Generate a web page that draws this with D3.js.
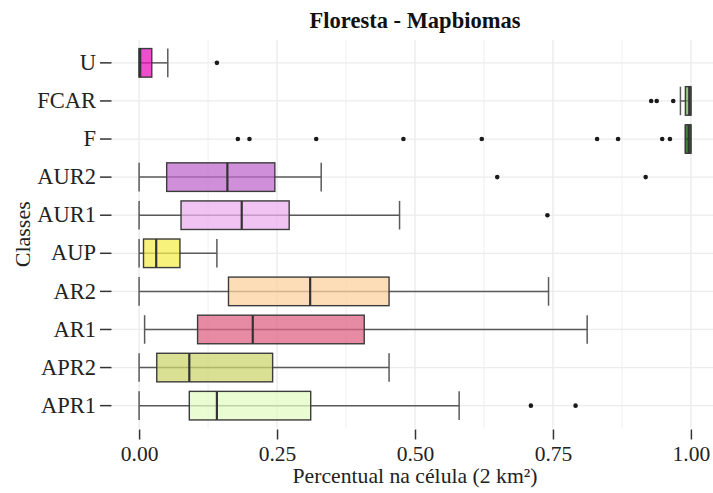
<!DOCTYPE html>
<html>
<head>
<meta charset="utf-8">
<script src="https://cdn.jsdelivr.net/npm/d3@7"></script>
<style>
  html, body { margin: 0; padding: 0; background: #fff; }
  svg { display: block; }
</style>
</head>
<body>
<svg id="chart" width="713" height="493"></svg>
<script>
// ---- data (top to bottom) ----
const classes      = ["U", "FCAR", "F", "AUR2", "AUR1", "AUP", "AR2", "AR1", "APR2", "APR1"];
const whiskerLow   = [0.000, 0.981, 0.990, 0.000, 0.000, 0.000, 0.000, 0.010, 0.000, 0.000];
const q1Values     = [0.000, 0.990, 0.990, 0.050, 0.076, 0.008, 0.162, 0.106, 0.032, 0.091];
const medianValues = [0.002, 0.997, 0.996, 0.160, 0.186, 0.031, 0.310, 0.206, 0.091, 0.141];
const q3Values     = [0.023, 1.000, 1.000, 0.246, 0.272, 0.074, 0.453, 0.408, 0.242, 0.311];
const whiskerHigh  = [0.052, 1.000, 1.000, 0.330, 0.472, 0.141, 0.742, 0.812, 0.453, 0.580];
const outlierValues = [
  [0.141],
  [0.928, 0.938, 0.968],
  [0.179, 0.200, 0.321, 0.479, 0.621, 0.830, 0.868, 0.948, 0.962],
  [0.649, 0.918],
  [0.740],
  [],
  [],
  [],
  [],
  [0.710, 0.791]
];
const boxColors = ["#ef4fcf", "#8fcb80", "#4f8c45", "#cf90d9", "#f0c3f2", "#f7f27c", "#fddcb8", "#e68ba3", "#d9df93", "#eafcd2"];
const xTicks = [0, 0.25, 0.5, 0.75, 1];
const xMinorTicks = [0.125, 0.375, 0.625, 0.875];
const titleText = "Floresta - Mapbiomas";
const xTitle = "Percentual na célula (2 km²)";
const yTitle = "Classes";

// ---- layout ----
const svg = d3.select("#chart");
const panel = { left: 111.5, right: 718.5, top: 40, bottom: 428.5 };
const x = d3.scaleLinear().domain([-0.05, 1.05]).range([panel.left, panel.right]);
const y = d3.scaleBand().domain(classes).range([panel.top, panel.bottom]).paddingInner(0).paddingOuter(0.1);
const boxH = y.bandwidth() * 0.75;
const alpha = 0.75;
function unblend(hex) {
  const c = d3.rgb(hex);
  const f = v => Math.max(0, Math.min(255, (v - 255 * (1 - alpha)) / alpha));
  return d3.rgb(f(c.r), f(c.g), f(c.b)).formatHex();
}
const font = "'Liberation Serif', 'Times New Roman', serif";
const textColor = "#222";

// gridlines
const grid = svg.append("g");
grid.selectAll("line.minor").data(xMinorTicks).join("line")
  .attr("x1", d => x(d)).attr("x2", d => x(d))
  .attr("y1", panel.top).attr("y2", panel.bottom)
  .attr("stroke", "#efefef").attr("stroke-width", 1);
grid.selectAll("line.major").data(xTicks).join("line")
  .attr("x1", d => x(d)).attr("x2", d => x(d))
  .attr("y1", panel.top).attr("y2", panel.bottom)
  .attr("stroke", "#e8e8e8").attr("stroke-width", 1.2);
grid.selectAll("line.h").data(classes).join("line")
  .attr("x1", panel.left).attr("x2", panel.right)
  .attr("y1", d => y(d) + y.bandwidth() / 2).attr("y2", d => y(d) + y.bandwidth() / 2)
  .attr("stroke", "#ececec").attr("stroke-width", 1.2);

// boxplots
const rows = classes.map((c, i) => ({
  c, lo: whiskerLow[i], q1: q1Values[i], med: medianValues[i], q3: q3Values[i], hi: whiskerHigh[i],
  out: outlierValues[i], color: boxColors[i]
}));
const g = svg.append("g");
const row = g.selectAll("g.row").data(rows).join("g")
  .attr("transform", d => `translate(0,${y(d.c) + y.bandwidth() / 2})`);

const whiskerColor = "#5a5a5a";
row.append("line")
  .attr("x1", d => x(d.lo)).attr("x2", d => x(d.hi))
  .attr("y1", 0).attr("y2", 0)
  .attr("stroke", whiskerColor).attr("stroke-width", 1.5);
row.append("line")
  .attr("x1", d => x(d.lo)).attr("x2", d => x(d.lo))
  .attr("y1", -boxH / 2).attr("y2", boxH / 2)
  .attr("stroke", whiskerColor).attr("stroke-width", 1.5);
row.append("line")
  .attr("x1", d => x(d.hi)).attr("x2", d => x(d.hi))
  .attr("y1", -boxH / 2).attr("y2", boxH / 2)
  .attr("stroke", whiskerColor).attr("stroke-width", 1.5);
row.append("rect")
  .attr("x", d => x(d.q1)).attr("width", d => Math.max(0, x(d.q3) - x(d.q1)))
  .attr("y", -boxH / 2).attr("height", boxH)
  .attr("fill", d => unblend(d.color)).attr("fill-opacity", alpha)
  .attr("stroke", "#3c3c3c").attr("stroke-width", 1.4);
row.append("line")
  .attr("x1", d => x(d.med)).attr("x2", d => x(d.med))
  .attr("y1", -boxH / 2).attr("y2", boxH / 2)
  .attr("stroke", "#333").attr("stroke-width", 2.2);
row.selectAll("circle").data(d => d.out).join("circle")
  .attr("cx", d => x(d)).attr("cy", 0).attr("r", 2.3)
  .attr("fill", "#1a1a1a");

// x axis
const xAxis = svg.append("g")
  .attr("transform", `translate(0,${panel.bottom + 1})`)
  .call(d3.axisBottom(x).tickValues(xTicks).tickFormat(d3.format(".2f")).tickSize(10).tickPadding(6));
xAxis.select(".domain").remove();
xAxis.selectAll(".tick line").attr("stroke", "#333").attr("stroke-width", 1.5);
xAxis.selectAll(".tick text").attr("fill", textColor).style("font-family", font).style("font-size", "21.5px");

// y axis
const yAxis = svg.append("g")
  .attr("transform", `translate(${panel.left},0)`)
  .call(d3.axisLeft(y).tickSize(11.5).tickPadding(4));
yAxis.select(".domain").remove();
yAxis.selectAll(".tick line").attr("stroke", "#333").attr("stroke-width", 1.5);
yAxis.selectAll(".tick text").attr("fill", textColor).style("font-family", font).style("font-size", "22.5px");

// titles
svg.append("text")
  .attr("x", (panel.left + panel.right) / 2).attr("y", 28)
  .attr("text-anchor", "middle")
  .style("font-family", font).style("font-size", "22.5px").style("font-weight", "bold")
  .attr("fill", "#111").text(titleText);
svg.append("text")
  .attr("x", (panel.left + panel.right) / 2).attr("y", 483)
  .attr("text-anchor", "middle")
  .style("font-family", font).style("font-size", "21.7px")
  .attr("fill", textColor).text(xTitle);
svg.append("text")
  .attr("transform", `translate(30,${(panel.top + panel.bottom) / 2}) rotate(-90)`)
  .attr("text-anchor", "middle")
  .style("font-family", font).style("font-size", "22px")
  .attr("fill", textColor).text(yTitle);
</script>
</body>
</html>
